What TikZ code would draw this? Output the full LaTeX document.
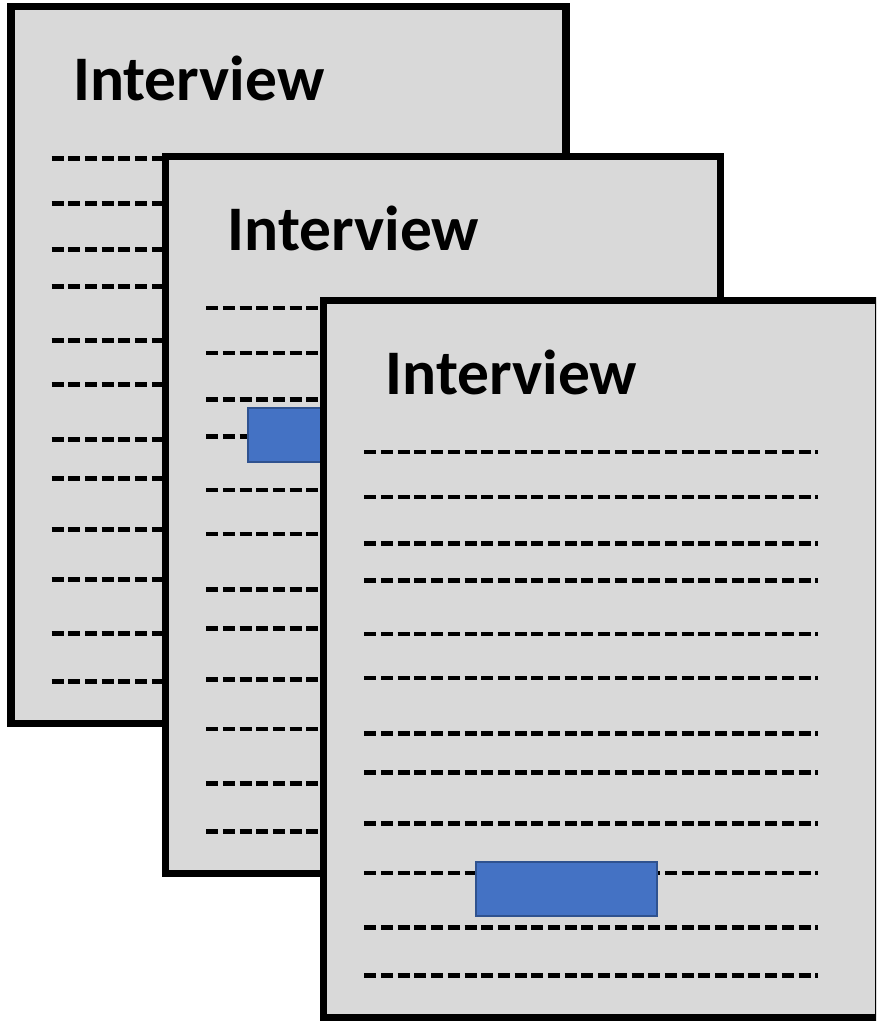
\documentclass[tikz,border=0pt]{standalone}
\usepackage{fontspec}
\setmainfont{Carlito}
\definecolor{pagegray}{HTML}{D9D9D9}
\definecolor{markblue}{HTML}{4472C4}
\definecolor{markedge}{HTML}{2F528F}
\tikzset{
  sheet/.style={draw=black, fill=pagegray, line width=7.5pt},
  textline/.style={draw=black, line width=4.6pt, dash pattern=on 12pt off 4.7pt},
  marker/.style={draw=markedge, fill=markblue, line width=2pt},
  heading/.style={anchor=base west, inner sep=0pt,
    font=\fontsize{63.5}{63.5}\selectfont\bfseries},
}
% one sheet of paper: frame, heading and twelve dashed text rows
% #1,#2 = top-left corner, #3 = name suffix
\newcommand\papersheet[3]{%
  \begin{scope}[shift={(#1,#2)}]
    \draw[sheet] (0,0) rectangle (555,717);
    \node[heading] (title#3) at (62,94) {Interview};
    \foreach \r/\yy in {1/151.5,2/196.5,3/243,4/280,5/333.5,6/377.5,
                        7/433,8/472,9/523,10/572.5,11/627,12/675}{
      \coordinate (row#3-\r-a) at (40.6,\yy);
      \coordinate (row#3-\r-b) at (494.3,\yy);
      \draw[textline] (row#3-\r-a) -- (row#3-\r-b);
    }
  \end{scope}%
}
\begin{document}
\begin{tikzpicture}[x=1pt, y=-1pt]
  \useasboundingbox (0,0) rectangle (876,1023);
  \clip (0,0) rectangle (876,1023);
  % back sheet
  \papersheet{11}{6.7}{A}
  % middle sheet with its highlight
  \papersheet{165.5}{156.5}{B}
  \draw[marker] (247.7,408.2) rectangle (428.7,461.8);
  % front sheet with its highlight
  \papersheet{323.7}{300.3}{C}
  \draw[marker] (475.7,861.7) rectangle (656.7,915.7);
\end{tikzpicture}
\end{document}
